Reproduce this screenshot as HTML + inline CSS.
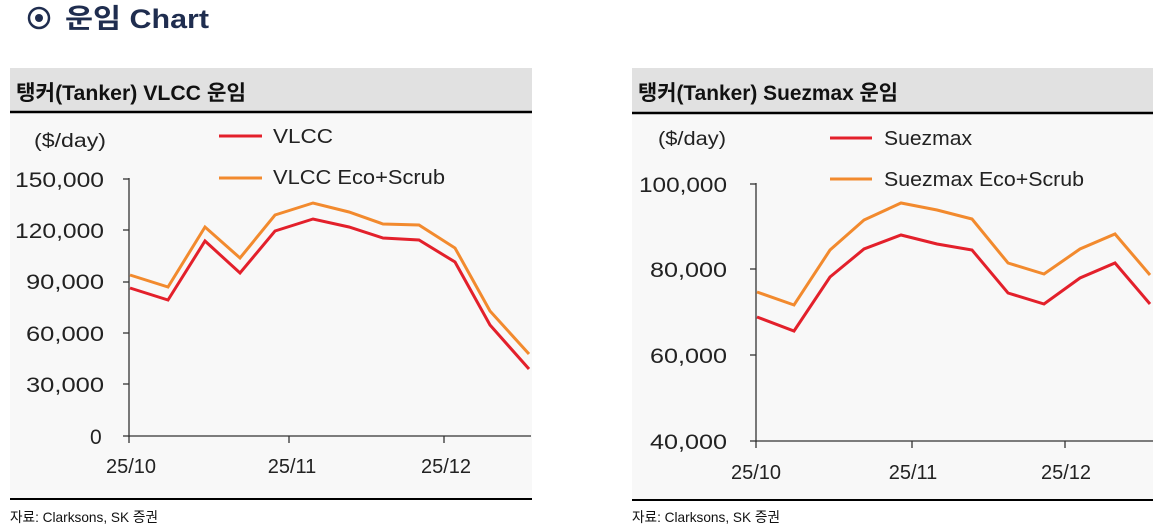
<!DOCTYPE html>
<html><head><meta charset="utf-8"><style>
body{margin:0;background:#fff;width:1159px;height:526px;overflow:hidden;font-family:"Liberation Sans","Noto Sans CJK KR",sans-serif}
svg text{font-family:"Liberation Sans","Noto Sans CJK KR",sans-serif}
</style></head><body>
<svg width="1159" height="526" xmlns="http://www.w3.org/2000/svg">
<circle cx="39" cy="18" r="10" fill="none" stroke="#1f2d4f" stroke-width="2.5"/>
<circle cx="39" cy="18" r="4" fill="#1f2d4f"/>
<text x="65" y="28" font-size="27" font-weight="bold" fill="#1f2d4f" textLength="144" lengthAdjust="spacingAndGlyphs">운임 Chart</text>
<!-- left panel -->
<rect x="10" y="112" width="522" height="388" fill="#f8f8f8"/>
<rect x="10" y="68" width="522" height="43" fill="#e1e1e1"/>
<line x1="10" y1="112" x2="532" y2="112" stroke="#000" stroke-width="2.5"/>
<line x1="10" y1="499" x2="532" y2="499" stroke="#000" stroke-width="2"/>
<text x="16" y="100" font-size="21" font-weight="bold" fill="#111" textLength="230" lengthAdjust="spacingAndGlyphs">탱커(Tanker) VLCC 운임</text>
<text x="10" y="522" font-size="14" fill="#111" textLength="148" lengthAdjust="spacingAndGlyphs">자료: Clarksons, SK 증권</text>
<text x="34" y="147" font-size="19" fill="#222" textLength="72" lengthAdjust="spacingAndGlyphs">($/day)</text>
<g font-size="21" fill="#222">
<text x="15" y="187" textLength="89" lengthAdjust="spacingAndGlyphs">150,000</text>
<text x="15" y="238" textLength="89" lengthAdjust="spacingAndGlyphs">120,000</text>
<text x="26" y="289" textLength="78" lengthAdjust="spacingAndGlyphs">90,000</text>
<text x="26" y="341" textLength="78" lengthAdjust="spacingAndGlyphs">60,000</text>
<text x="26" y="392" textLength="78" lengthAdjust="spacingAndGlyphs">30,000</text>
<text x="90" y="444">0</text>
</g>
<g stroke="#333" stroke-width="1.3">
<line x1="129" y1="178" x2="129" y2="437"/><line x1="129" y1="436" x2="531" y2="436"/>
<line x1="123" y1="179" x2="129" y2="179"/><line x1="123" y1="230" x2="129" y2="230"/><line x1="123" y1="282" x2="129" y2="282"/>
<line x1="123" y1="333" x2="129" y2="333"/><line x1="123" y1="384" x2="129" y2="384"/><line x1="123" y1="436" x2="129" y2="436"/>
<line x1="129" y1="436" x2="129" y2="443"/><line x1="289" y1="436" x2="289" y2="443"/><line x1="444" y1="436" x2="444" y2="443"/>
</g>
<g font-size="20" fill="#222" text-anchor="middle">
<text x="131" y="473">25/10</text><text x="292" y="473">25/11</text><text x="446" y="473">25/12</text>
</g>
<polyline fill="none" stroke="#f28a2e" stroke-width="3" points="130,275 168,287 205,227 240,258 275,215 313,203 349,212 383,224 419,225 455,248 490,311 529,354"/>
<polyline fill="none" stroke="#e3202b" stroke-width="3" points="130,288 168,300 205,241 240,273 275,231 313,219 349,227 383,238 419,240 455,262 490,325 529,369"/>
<line x1="219" y1="136" x2="262" y2="136" stroke="#e3202b" stroke-width="3"/>
<line x1="219" y1="178" x2="262" y2="178" stroke="#f28a2e" stroke-width="3"/>
<text x="273" y="143" font-size="20" fill="#222" textLength="60" lengthAdjust="spacingAndGlyphs">VLCC</text>
<text x="273" y="184" font-size="20" fill="#222" textLength="172" lengthAdjust="spacingAndGlyphs">VLCC Eco+Scrub</text>
<!-- right panel -->
<rect x="632" y="112" width="521" height="388" fill="#f8f8f8"/>
<rect x="632" y="68" width="521" height="44" fill="#e1e1e1"/>
<line x1="632" y1="113" x2="1153" y2="113" stroke="#000" stroke-width="2.5"/>
<line x1="632" y1="500" x2="1153" y2="500" stroke="#000" stroke-width="2"/>
<text x="638" y="100" font-size="21" font-weight="bold" fill="#111" textLength="260" lengthAdjust="spacingAndGlyphs">탱커(Tanker) Suezmax 운임</text>
<text x="632" y="522" font-size="14" fill="#111" textLength="148" lengthAdjust="spacingAndGlyphs">자료: Clarksons, SK 증권</text>
<text x="658" y="145" font-size="19" fill="#222" textLength="68" lengthAdjust="spacingAndGlyphs">($/day)</text>
<g font-size="21" fill="#222">
<text x="639" y="192" textLength="88" lengthAdjust="spacingAndGlyphs">100,000</text>
<text x="650" y="277" textLength="77" lengthAdjust="spacingAndGlyphs">80,000</text>
<text x="650" y="363" textLength="77" lengthAdjust="spacingAndGlyphs">60,000</text>
<text x="650" y="449" textLength="77" lengthAdjust="spacingAndGlyphs">40,000</text>
</g>
<g stroke="#333" stroke-width="1.3">
<line x1="756" y1="183" x2="756" y2="442"/><line x1="756" y1="441" x2="1153" y2="441"/>
<line x1="750" y1="184" x2="756" y2="184"/><line x1="750" y1="269" x2="756" y2="269"/><line x1="750" y1="355" x2="756" y2="355"/><line x1="750" y1="441" x2="756" y2="441"/>
<line x1="756" y1="441" x2="756" y2="448"/><line x1="912" y1="441" x2="912" y2="448"/><line x1="1065" y1="441" x2="1065" y2="448"/>
</g>
<g font-size="20" fill="#222" text-anchor="middle">
<text x="756" y="479">25/10</text><text x="913" y="479">25/11</text><text x="1066" y="479">25/12</text>
</g>
<polyline fill="none" stroke="#f28a2e" stroke-width="3" points="757,292 794,305 830,250 864,220 901,203 937,210 972,219 1008,263 1044,274 1080,249 1115,234 1150,275"/>
<polyline fill="none" stroke="#e3202b" stroke-width="3" points="757,317 794,331 830,277 864,249 901,235 937,244 972,250 1008,293 1044,304 1080,278 1115,263 1150,304"/>
<line x1="830" y1="138" x2="872" y2="138" stroke="#e3202b" stroke-width="3"/>
<line x1="830" y1="179" x2="872" y2="179" stroke="#f28a2e" stroke-width="3"/>
<text x="884" y="145" font-size="20" fill="#222" textLength="88" lengthAdjust="spacingAndGlyphs">Suezmax</text>
<text x="884" y="186" font-size="20" fill="#222" textLength="200" lengthAdjust="spacingAndGlyphs">Suezmax Eco+Scrub</text>
</svg>
</body></html>
